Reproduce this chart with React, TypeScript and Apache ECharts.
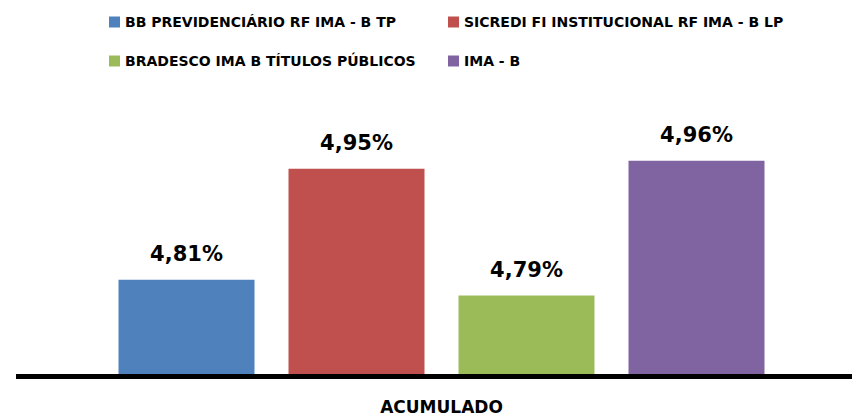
import React, { useEffect, useRef } from "react";
import * as echarts from "echarts";

const categories = ["ACUMULADO"];
const seriesNames = [
  "BB PREVIDENCIÁRIO RF IMA - B TP",
  "SICREDI FI INSTITUCIONAL RF IMA - B LP",
  "BRADESCO IMA B TÍTULOS PÚBLICOS",
  "IMA - B",
];
const seriesValues = [4.81, 4.95, 4.79, 4.96];
const seriesColors = ["#4F81BD", "#C0504D", "#9BBB59", "#8064A2"];

const FONT = "'DejaVu Sans', 'Liberation Sans', sans-serif";

export default function App() {
  const ref = useRef<HTMLDivElement>(null);
  useEffect(() => {
    document.body.style.margin = "0";
    if (!ref.current) return;
    const chart = echarts.init(ref.current, null, { renderer: "svg" });
    const legendBase = {
      orient: "vertical" as const,
      top: 10,
      padding: 5,
      itemWidth: 11,
      itemHeight: 11,
      itemGap: 25,
      icon: "rect",
      textStyle: { fontFamily: FONT, fontWeight: "bold", fontSize: 14, color: "#000" },
    };
    chart.setOption({
      animation: false,
      backgroundColor: "#fff",
      legend: [
        { ...legendBase, left: 104, data: [seriesNames[0], seriesNames[2]] },
        { ...legendBase, left: 443, data: [seriesNames[1], seriesNames[3]] },
      ],
      grid: { left: 31, right: 0, top: 129, bottom: 43 },
      xAxis: {
        type: "category",
        data: categories,
        axisLine: { show: false },
        axisTick: { show: false },
        axisLabel: {
          margin: 24,
          fontFamily: FONT,
          fontWeight: "bold",
          fontSize: 17,
          color: "#000",
        },
      },
      yAxis: {
        type: "value",
        min: 4.691,
        max: 5.0,
        show: false,
        splitLine: { show: false },
      },
      graphic: [
        {
          type: "rect",
          shape: { x: 16, y: 374, width: 836, height: 5 },
          style: { fill: "#000" },
          z: 10,
        },
      ],
      series: seriesNames.map((name, i) => ({
        name,
        type: "bar",
        data: [seriesValues[i]],
        barWidth: 136,
        barGap: "25%",
        itemStyle: { color: seriesColors[i] },
        label: {
          show: true,
          position: "top",
          distance: 15,
          fontFamily: FONT,
          fontWeight: "bold",
          fontSize: 21,
          color: "#000",
          formatter: (p: any) => p.value.toFixed(2).replace(".", ",") + "%",
        },
      })),
    });
    return () => chart.dispose();
  }, []);
  return <div ref={ref} style={{ width: 852, height: 417 }} />;
}
